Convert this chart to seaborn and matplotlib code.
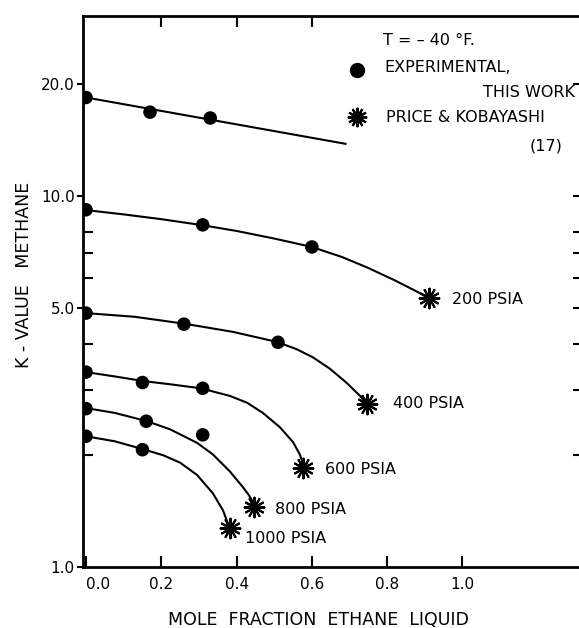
import matplotlib
matplotlib.use("Agg")
import matplotlib.pyplot as plt
import numpy as np
import pandas as pd
import seaborn as sns
from matplotlib.ticker import NullFormatter


# Experimental points, this work (filled circles), one list pair per isobar.
exp_top_x = [0.0, 0.17, 0.33]
exp_top_k = [18.4, 16.8, 16.2]
exp_200_x = [0.0, 0.31, 0.60]
exp_200_k = [9.17, 8.35, 7.28]
exp_400_x = [0.0, 0.26, 0.51]
exp_400_k = [4.83, 4.51, 4.03]
exp_600_x = [0.0, 0.15, 0.31]
exp_600_k = [3.35, 3.14, 3.03]
exp_800_x = [0.0, 0.16, 0.31]
exp_800_k = [2.67, 2.47, 2.27]
exp_1000_x = [0.0, 0.15]
exp_1000_k = [2.25, 2.07]

# Price & Kobayashi (17) end points.
pk_x = [0.912, 0.746, 0.577, 0.446, 0.382]
pk_k = [5.30, 2.75, 1.85, 1.45, 1.27]
pk_labels = ["200 PSIA", "400 PSIA", "600 PSIA", "800 PSIA", "1000 PSIA"]

# Smoothed curves.
curve_top_x = [0.0, 0.69]
curve_top_k = [18.4, 13.8]
curve_200_x = [0.0, 0.1, 0.2, 0.31, 0.4, 0.5, 0.6, 0.68, 0.75, 0.82, 0.87,
               0.912]
curve_200_k = [9.15, 8.91, 8.65, 8.33, 8.04, 7.67, 7.28, 6.84, 6.39, 5.92,
               5.58, 5.30]
curve_400_x = [0.0, 0.13, 0.263, 0.39, 0.507, 0.56, 0.603, 0.648, 0.693,
               0.728, 0.746]
curve_400_k = [4.83, 4.72, 4.52, 4.30, 4.04, 3.86, 3.67, 3.42, 3.13, 2.89,
               2.75]
curve_600_x = [0.0, 0.077, 0.151, 0.23, 0.305, 0.382, 0.428, 0.470, 0.515,
               0.550, 0.568, 0.574, 0.577]
curve_600_k = [3.35, 3.26, 3.17, 3.10, 3.03, 2.89, 2.77, 2.60, 2.38, 2.17,
               2.01, 1.93, 1.85]
curve_800_x = [0.0, 0.077, 0.162, 0.223, 0.295, 0.337, 0.382, 0.417, 0.433,
               0.441, 0.446]
curve_800_k = [2.68, 2.60, 2.47, 2.35, 2.16, 2.01, 1.81, 1.64, 1.56, 1.51,
               1.45]
curve_1000_x = [0.0, 0.077, 0.149, 0.205, 0.250, 0.295, 0.337, 0.364, 0.382]
curve_1000_k = [2.25, 2.18, 2.08, 2.00, 1.91, 1.77, 1.58, 1.42, 1.27]

y_major = [1.0, 5.0, 10.0, 20.0]
y_major_labels = ["1.0", "5.0", "10.0", "20.0"]
y_minor = [2, 3, 4, 6, 7, 8]
y_right = [2, 3, 4, 5, 6, 7, 8, 10, 20]
x_major = [0.0, 0.2, 0.4, 0.6, 0.8, 1.0]
x_major_labels = ["0.0", "0.2", "0.4", "0.6", "0.8", "1.0"]
x_top = [0.2, 0.4, 0.6]


def long_frame(pairs):
    frames = []
    for name, xs, ks in pairs:
        frames.append(pd.DataFrame({"series": name, "x": xs, "k": ks}))
    return pd.concat(frames, ignore_index=True)


exp_df = long_frame([
    ("top", exp_top_x, exp_top_k),
    ("200", exp_200_x, exp_200_k),
    ("400", exp_400_x, exp_400_k),
    ("600", exp_600_x, exp_600_k),
    ("800", exp_800_x, exp_800_k),
    ("1000", exp_1000_x, exp_1000_k),
])
curve_df = long_frame([
    ("top", curve_top_x, curve_top_k),
    ("200", curve_200_x, curve_200_k),
    ("400", curve_400_x, curve_400_k),
    ("600", curve_600_x, curve_600_k),
    ("800", curve_800_x, curve_800_k),
    ("1000", curve_1000_x, curve_1000_k),
])
pk_df = pd.DataFrame({"x": pk_x, "k": pk_k, "label": pk_labels})

sns.set_style("ticks")
plt.rcParams["font.family"] = ["DejaVu Sans"]
plt.rcParams["text.color"] = "black"
plt.rcParams["xtick.color"] = "black"
plt.rcParams["ytick.color"] = "black"
plt.rcParams["axes.labelcolor"] = "black"

fig = plt.figure(figsize=(5.79, 6.28), dpi=100)
ax = fig.add_axes([83 / 579, 1 - 567 / 628, 498 / 579, 551 / 628])

# Curves.
sns.lineplot(data=curve_df, x="x", y="k", units="series", estimator=None,
             sort=False, color="black", linewidth=1.5, ax=ax, legend=False)

# Experimental circles.
sns.scatterplot(data=exp_df, x="x", y="k", color="black", marker="o", s=95,
                edgecolor="none", ax=ax, legend=False, zorder=4)

# Price & Kobayashi bursts.
sns.scatterplot(data=pk_df, x="x", y="k", color="black", marker=(12, 2, 0),
                s=200, linewidth=1.5, ax=ax, legend=False, zorder=5)
sns.scatterplot(data=pk_df, x="x", y="k", color="black", marker="o",
                s=60, edgecolor="none", ax=ax, legend=False, zorder=5)

label_offsets = [(16, -1), (19, 0), (16, -1.5), (15, -2), (11, -7)]
for (_, row), off in zip(pk_df.iterrows(), label_offsets):
    ax.annotate(row["label"], (row["x"], row["k"]), xytext=off,
                textcoords="offset points", ha="left", va="center",
                fontsize=11.5, color="black")

ax.set_yscale("log")
ax.set_xlim(-0.008, 1.315)
ax.set_ylim(1.0, 30.5)

ax.set_yticks(y_major)
ax.set_yticklabels(y_major_labels)
ax.set_yticks(y_minor, minor=True)
ax.yaxis.set_minor_formatter(NullFormatter())
ax.set_xticks(x_major)
ax.set_xticklabels(x_major_labels)
ax.get_xticklabels()[0].set_horizontalalignment("left")
ax.set_xticks([], minor=True)

ax.tick_params(axis="x", which="major", direction="in", length=8, width=1.5,
               pad=7, labelsize=11)
ax.tick_params(axis="y", which="major", direction="out", length=4, width=1.5,
               pad=2, labelsize=11)
ax.tick_params(axis="y", which="minor", direction="in", length=7, width=1.5)

top = ax.secondary_xaxis("top")
top.set_xticks(x_top)
top.set_xticklabels([])
top.tick_params(direction="in", length=8, width=1.5)
for s in top.spines.values():
    s.set_visible(False)

right = ax.secondary_yaxis("right")
right.set_yticks(y_right)
right.set_yticks([], minor=True)
right.set_yticklabels([])
right.yaxis.set_minor_formatter(NullFormatter())
right.tick_params(which="both", direction="in", length=6, width=1.5)
for s in right.spines.values():
    s.set_visible(False)

for side in ["top", "bottom", "left"]:
    ax.spines[side].set_linewidth(2)
    ax.spines[side].set_color("black")
ax.spines["right"].set_visible(False)

ax.set_xlabel("")
ax.set_ylabel("")
ax.text(-0.118, 0.53, "K - VALUE   METHANE", rotation=90, ha="center",
        va="center", fontsize=12.5, transform=ax.transAxes)
ax.text(0.472, -0.096, "MOLE  FRACTION  ETHANE  LIQUID", ha="center",
        va="center", fontsize=12.5, transform=ax.transAxes)

# Legend drawn inside the plot.
ax.text(0.602, 0.956, "T = \u2013 40 \u00b0F.", ha="left", va="center",
        fontsize=11.5, transform=ax.transAxes)
ax.plot([0.550], [0.902], marker="o", color="black", markersize=10,
        linestyle="none", transform=ax.transAxes)
ax.text(0.606, 0.906, "EXPERIMENTAL,", ha="left", va="center",
        fontsize=11.5, transform=ax.transAxes)
ax.text(0.988, 0.862, "THIS WORK", ha="right", va="center",
        fontsize=11.5, transform=ax.transAxes)
ax.plot([0.550], [0.817], marker=(12, 2, 0), color="black", markersize=14,
        markeredgewidth=1.5, linestyle="none", transform=ax.transAxes)
ax.plot([0.550], [0.817], marker="o", color="black", markersize=8,
        linestyle="none", transform=ax.transAxes)
ax.text(0.608, 0.815, "PRICE & KOBAYASHI", ha="left", va="center",
        fontsize=11.5, transform=ax.transAxes)
ax.text(0.962, 0.764, "(17)", ha="right", va="center",
        fontsize=11.5, transform=ax.transAxes)

fig.savefig("out.png", dpi=100)
